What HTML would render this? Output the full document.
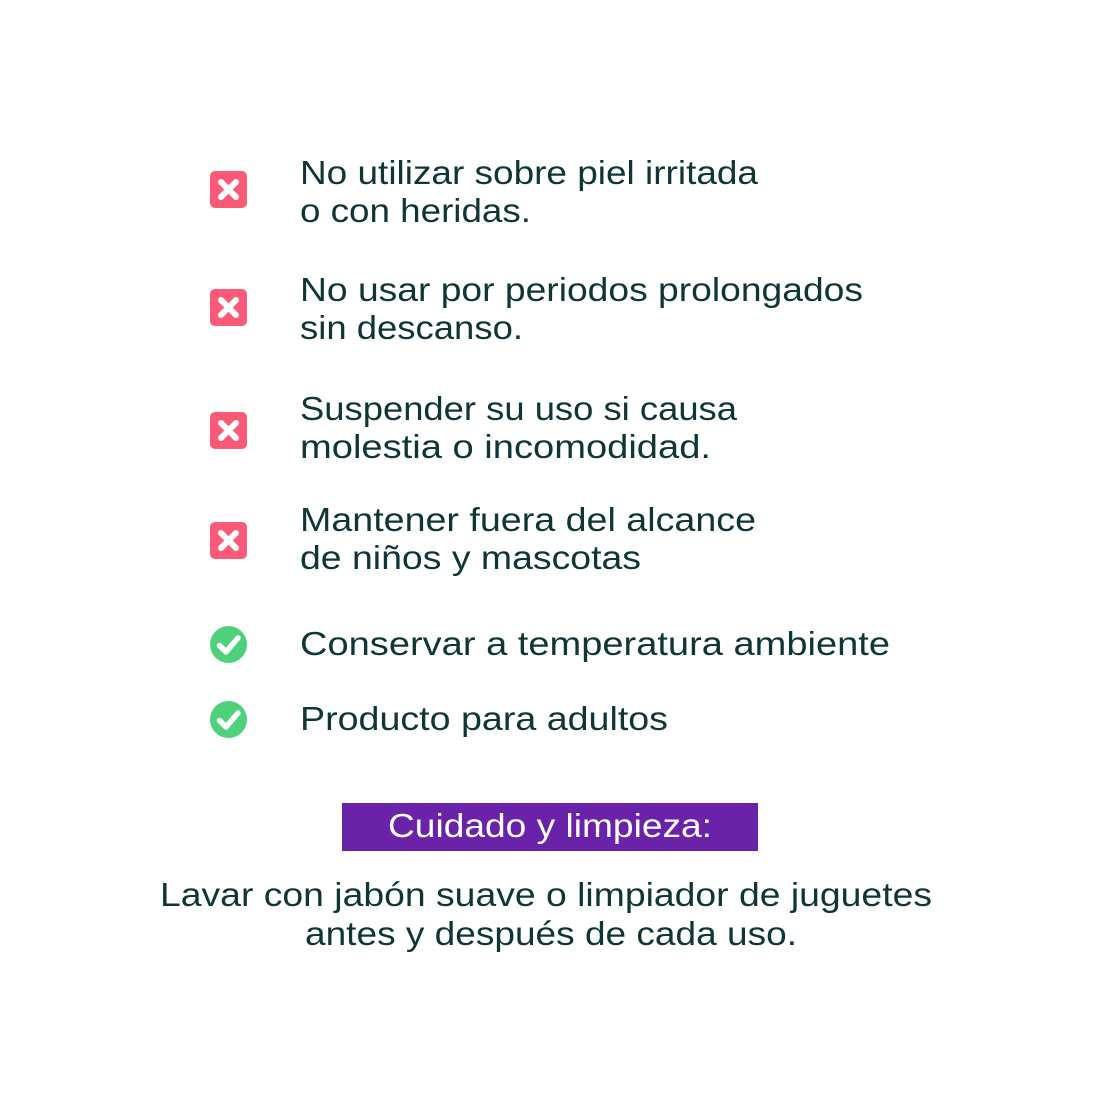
<!DOCTYPE html>
<html><head><meta charset="utf-8"><style>
html,body{margin:0;padding:0;background:#fff;}
svg{display:block;}
text{font-family:"Liberation Sans",sans-serif;font-size:33px;fill:#0f3636;}
</style></head><body>
<svg width="1100" height="1100" viewBox="0 0 1100 1100" xmlns="http://www.w3.org/2000/svg">
<defs>
<g id="x"><rect x="0" y="0" width="37" height="37" rx="5" fill="#fa5a78"/><path d="M11 11 L26 26 M26 11 L11 26" stroke="#fff" stroke-width="6" stroke-linecap="round"/></g>
<g id="c"><circle cx="18.5" cy="18.5" r="18.5" fill="#4fd07b"/><path d="M9.5 19.5 L16 26 L28 12" stroke="#fff" stroke-width="5.5" fill="none" stroke-linecap="round" stroke-linejoin="round"/></g>
</defs>
<use href="#x" x="210" y="171"/>
<use href="#x" x="210" y="289"/>
<use href="#x" x="210" y="412"/>
<use href="#x" x="210" y="522"/>
<use href="#c" x="210" y="626"/>
<use href="#c" x="210" y="701"/>
<text x="300" y="184" textLength="458" lengthAdjust="spacingAndGlyphs">No utilizar sobre piel irritada</text>
<text x="300" y="222" textLength="231" lengthAdjust="spacingAndGlyphs">o con heridas.</text>
<text x="300" y="301" textLength="563" lengthAdjust="spacingAndGlyphs">No usar por periodos prolongados</text>
<text x="300" y="339" textLength="223" lengthAdjust="spacingAndGlyphs">sin descanso.</text>
<text x="300" y="420" textLength="437" lengthAdjust="spacingAndGlyphs">Suspender su uso si causa</text>
<text x="300" y="458" textLength="411" lengthAdjust="spacingAndGlyphs">molestia o incomodidad.</text>
<text x="300" y="531" textLength="456" lengthAdjust="spacingAndGlyphs">Mantener fuera del alcance</text>
<text x="300" y="569" textLength="341" lengthAdjust="spacingAndGlyphs">de niños y mascotas</text>
<text x="300" y="655" textLength="590" lengthAdjust="spacingAndGlyphs">Conservar a temperatura ambiente</text>
<text x="300" y="730" textLength="368" lengthAdjust="spacingAndGlyphs">Producto para adultos</text>
<rect x="342" y="803" width="416" height="48" fill="#6a22a8"/>
<text x="388" y="837" textLength="324" lengthAdjust="spacingAndGlyphs" style="fill:#fff">Cuidado y limpieza:</text>
<text x="160" y="906" textLength="772" lengthAdjust="spacingAndGlyphs">Lavar con jabón suave o limpiador de juguetes</text>
<text x="305" y="945" textLength="492" lengthAdjust="spacingAndGlyphs">antes y después de cada uso.</text>
</svg>
</body></html>
